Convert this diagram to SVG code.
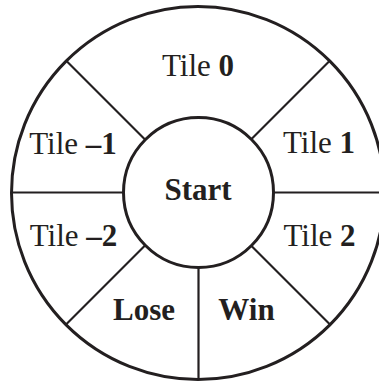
<svg xmlns="http://www.w3.org/2000/svg" width="379" height="383" viewBox="0 0 379 383">
<style>
.ring{fill:#fff;stroke:#231f20;stroke-width:3}
.sep{stroke:#231f20;stroke-width:2.2;fill:none}
text{font-family:"Liberation Serif","Times New Roman",serif;font-size:31px;fill:#231f20;text-anchor:middle}
.b{font-weight:bold}
</style>
<rect width="379" height="383" fill="#fff"/>
<g id="board">
<circle class="ring" cx="198" cy="193" r="186.5"/>
</g>
<g id="connectors">
<line class="sep" x1="145" y1="139.5" x2="66" y2="60.5"/>
<line class="sep" x1="251" y1="139.5" x2="330" y2="60.5"/>
<line class="sep" x1="145" y1="245.5" x2="66" y2="324.5"/>
<line class="sep" x1="251" y1="245.5" x2="330" y2="324.5"/>
<line class="sep" x1="11.5" y1="192.5" x2="123.5" y2="192.5"/>
<line class="sep" x1="272.5" y1="192.5" x2="385" y2="192.5"/>
<line class="sep" x1="198.5" y1="267.5" x2="198.5" y2="380"/>
</g>
<g id="start">
<circle class="ring" cx="198.5" cy="192.5" r="75"/>
<text x="198" y="200" class="b">Start</text>
</g>
<g id="tile0"><text x="198" y="76">Tile <tspan class="b">0</tspan></text></g>
<g id="tile1"><text x="319" y="153">Tile <tspan class="b">1</tspan></text></g>
<g id="tile2"><text x="319.5" y="246">Tile <tspan class="b">2</tspan></text></g>
<g id="tile-1"><text x="73" y="154">Tile <tspan class="b">–1</tspan></text></g>
<g id="tile-2"><text x="73.5" y="246">Tile <tspan class="b">–2</tspan></text></g>
<g id="lose"><text x="144" y="320" class="b">Lose</text></g>
<g id="win"><text x="246.5" y="320" class="b">Win</text></g>
</svg>
